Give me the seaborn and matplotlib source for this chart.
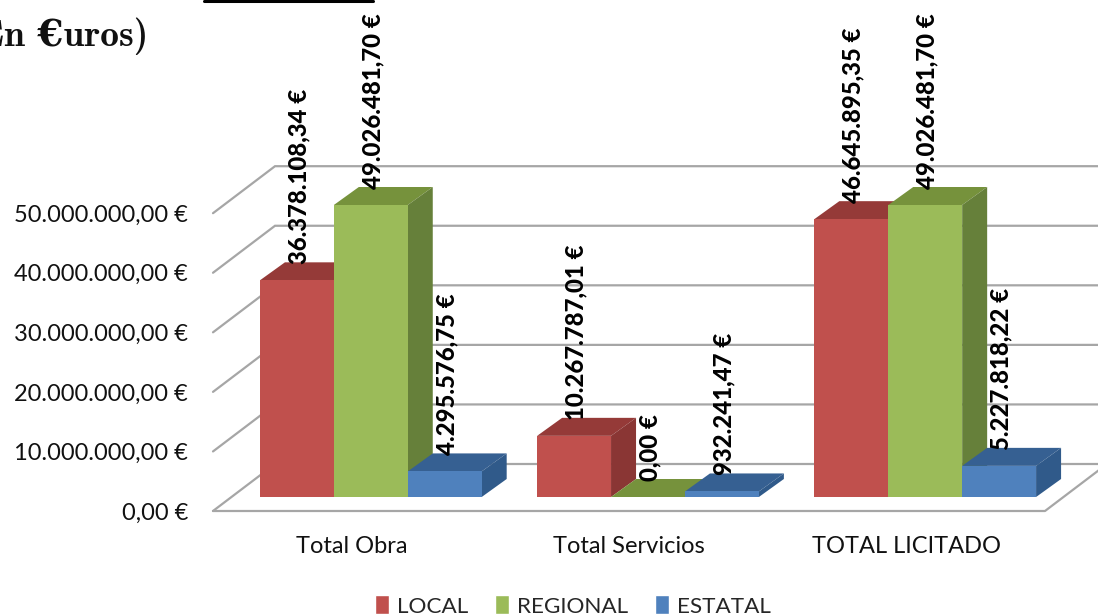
import matplotlib
matplotlib.use("Agg")
import matplotlib.pyplot as plt
import seaborn as sns
import pandas as pd
from matplotlib.lines import Line2D
from matplotlib.patches import Polygon
from matplotlib.transforms import ScaledTranslation

categories = ["Total Obra", "Total Servicios", "TOTAL LICITADO"]
local_values = [36378108.34, 10267787.01, 46645895.35]
regional_values = [49026481.70, 0.00, 49026481.70]
estatal_values = [4295576.75, 932241.47, 5227818.22]
series_names = ["LOCAL", "REGIONAL", "ESTATAL"]
y_ticks = [0, 10000000, 20000000, 30000000, 40000000, 50000000]
title_text = "(En €uros)"

FRONT = {"LOCAL": "#C0504D", "REGIONAL": "#9BBB59", "ESTATAL": "#4F81BD"}
TOP = {"LOCAL": "#953A38", "REGIONAL": "#76923C", "ESTATAL": "#366092"}
SIDE = {"LOCAL": "#8A3634", "REGIONAL": "#66803A", "ESTATAL": "#305A8A"}
GRID = "#A6A6A6"
FONT = "Lato"

W, H = 1098, 615
DPI = 100
sns.set_theme(style="white")
plt.rcParams["font.family"] = [FONT, "DejaVu Sans"]

df = pd.DataFrame({
    "categoria": categories * 3,
    "serie": [s for s in series_names for _ in categories],
    "valor": local_values + regional_values + estatal_values,
})

fig = plt.figure(figsize=(W / DPI, H / DPI), dpi=DPI, facecolor="white")
L, R, T, B = 232.2, 1063.8, 199.2, 497.0
ax = fig.add_axes([L / W, 1 - B / H, (R - L) / W, (B - T) / H])
ax.set_facecolor("none")

sns.barplot(data=df, x="categoria", y="valor", hue="serie", hue_order=series_names,
            palette=FRONT, width=0.8, saturation=1, gap=0, dodge=True, ax=ax,
            errorbar=None, legend=True)
ax.set_xlim(-0.5, 2.5)
ax.set_ylim(0, 50000000)
ax.set_xlabel("")
ax.set_ylabel("")
sns.despine(ax=ax, left=True, bottom=True)

xu = 3.0 / (R - L)        # data x per pixel
yu = 50000000 / (B - T)   # data y per pixel


def pt(xpx, value, ydrop=0):
    """pixel x, plus a value shifted by ydrop pixels downward, as data coords"""
    return (-0.5 + (xpx - L) * xu, value - ydrop * yu)


# walls and floor
for v in y_ticks:
    fx, fy = pt(213, v, 14)
    bx, by = pt(275, v, -33)
    ex, _ = pt(1110, v)
    ax.add_line(Line2D([fx, bx, ex], [fy, by, by], color=GRID, lw=1.6, zorder=1,
                       clip_on=False, solid_joinstyle="miter"))
fx, fy = pt(213, 0, 14)
ex, _ = pt(1045, 0)
rx, ry = pt(1107, 0, -33)
ax.add_line(Line2D([fx, ex, rx], [fy, fy, ry], color=GRID, lw=1.6, zorder=1, clip_on=False))

# depth of the bars
DX, DY = 25 * xu, 18 * yu
order = 0
bars = []
for j in range(len(categories)):
    for name, cont in zip(series_names, ax.containers):
        bars.append((name, cont[j]))

for name, bar in bars:
    order += 1
    z = 3 + order * 0.1
    x0, x1 = bar.get_x(), bar.get_x() + bar.get_width()
    h = bar.get_height()
    ax.add_patch(Polygon([(x0, h), (x1, h), (x1 + DX, h + DY), (x0 + DX, h + DY)],
                         closed=True, facecolor=TOP[name], edgecolor="none", zorder=z, clip_on=False))
    ax.add_patch(Polygon([(x1, 0), (x1 + DX, DY), (x1 + DX, h + DY), (x1, h)],
                         closed=True, facecolor=SIDE[name], edgecolor="none", zorder=z, clip_on=False))
    bar.set_zorder(z + 0.01)
    bar.set_edgecolor("none")
    bar.set_clip_on(False)


def euro(v):
    s = f"{v:,.2f}".replace(",", "#").replace(".", ",").replace("#", ".")
    return s + " €"


for name, bar in bars:
    ax.annotate(euro(bar.get_height()), xy=(bar.get_x() + bar.get_width() / 2, bar.get_height()),
                xytext=(2 * 72 / DPI, 16 * 72 / DPI), textcoords="offset points", rotation=90,
                ha="center", va="bottom", fontsize=17.3, fontweight=900, color="black",
                zorder=10, annotation_clip=False)

# axis labels
ax.set_yticks(y_ticks)
ax.set_yticklabels([euro(v) for v in y_ticks], fontsize=17, color="#111111")
ax.tick_params(axis="y", length=0, pad=44 * 72 / DPI)
ax.tick_params(axis="x", length=0, pad=39 * 72 / DPI)
ax.set_xticks(range(len(categories)))
ax.set_xticklabels(categories, fontsize=17, color="#111111")
off_y = ScaledTranslation(0, -14 / DPI, fig.dpi_scale_trans)
off_x = ScaledTranslation(-19 / DPI, 0, fig.dpi_scale_trans)
for lab in ax.get_yticklabels():
    lab.set_transform(lab.get_transform() + off_y)
for lab in ax.get_xticklabels():
    lab.set_transform(lab.get_transform() + off_x)

# legend
handles, labels = ax.get_legend_handles_labels()
ax.get_legend().remove()
fig.legend(handles, labels, ncols=3, loc="center", bbox_to_anchor=(573 / W, 1 - 606 / H),
           frameon=False, fontsize=16.2, handlelength=0.62, handleheight=0.9, handletextpad=0.35,
           columnspacing=1.2, borderpad=0, labelspacing=0)

# text above the chart
fig.text(148 / W, 1 - 36 / H, title_text, ha="right", va="center", fontsize=27,
         fontweight="bold", family=["cmb10", "DejaVu Serif"], color="#111111")
fig.add_artist(Line2D([204 / W, 373 / W], [1 - 1 / H, 1 - 1 / H], color="black", lw=2.2))

fig.savefig("out.png", dpi=DPI)
